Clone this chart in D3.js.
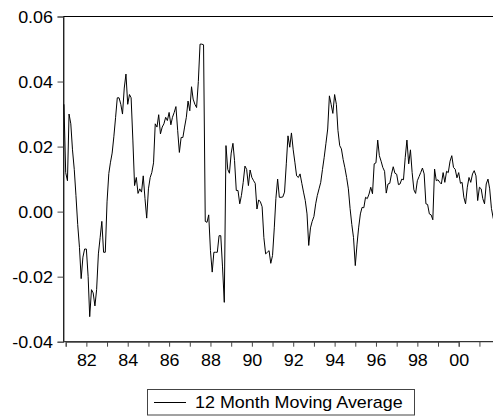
<!DOCTYPE html>
<html>
<head>
<meta charset="utf-8">
<script src="https://cdn.jsdelivr.net/npm/d3@7"></script>
<style>
  body { margin: 0; background: #fff; }
  text { font-family: "Liberation Sans", Arial, sans-serif; }
</style>
</head>
<body>
<div id="chart"></div>
<script>
// monthly series, first observation 1980M12
const startMonth = new Date(1980, 11, 1);
const maValues = [
  0.033, 0.012, 0.0095, 0.030, 0.027, 0.019, 0.013, 0.005, -0.004, -0.011,
  -0.0206, -0.014, -0.0115, -0.0115, -0.020, -0.0323, -0.024, -0.025, -0.029, -0.024,
  -0.013, -0.008, -0.003, -0.0125, -0.0125, 0.003, 0.0117, 0.015, 0.018, 0.023,
  0.029, 0.035, 0.035, 0.033, 0.030, 0.038, 0.0423, 0.033, 0.036, 0.035,
  0.022, 0.008, 0.0105, 0.0056, 0.007, 0.006, 0.011, 0.004, -0.002, 0.007,
  0.0105, 0.012, 0.015, 0.027, 0.026, 0.0298, 0.0239, 0.026, 0.027, 0.029,
  0.028, 0.0305, 0.0267, 0.029, 0.0305, 0.0323, 0.025, 0.0182, 0.0228, 0.0228,
  0.026, 0.029, 0.034, 0.031, 0.0384, 0.0346, 0.033, 0.032, 0.040, 0.0515,
  0.0515, 0.0513, -0.003, -0.0033, -0.001, -0.012, -0.0186, -0.0125, -0.0125, -0.0125,
  -0.0074, -0.0074, -0.017, -0.0279, 0.0203, 0.013, 0.0118, 0.018, 0.021, 0.0157,
  0.0065, 0.0065, 0.0024, 0.005, 0.009, 0.014, 0.013, 0.008, 0.0128, 0.0105,
  0.0095, 0.0087, 0.0008, 0.0036, 0.003, 0.0015, -0.008, -0.013, -0.0125, -0.012,
  -0.0159, -0.0135, -0.005, 0.004, 0.010, 0.0044, 0.0044, 0.0045, 0.006, 0.0147,
  0.0233, 0.0198, 0.0242, 0.019, 0.015, 0.011, 0.0105, 0.0116, 0.0087, 0.006,
  0.0034, -0.0007, -0.0104, -0.005, -0.003, -0.0015, 0.0024, 0.0049, 0.007, 0.009,
  0.013, 0.0167, 0.021, 0.0254, 0.0356, 0.033, 0.0302, 0.036, 0.033, 0.025,
  0.0203, 0.0193, 0.016, 0.0135, 0.0105, 0.007, 0.001, -0.004, -0.008, -0.0166,
  -0.010, -0.005, -0.0007, 0.0013, 0.0012, 0.0044, 0.004, 0.0054, 0.0075, 0.0055,
  0.0147, 0.015, 0.022, 0.0172, 0.0155, 0.0136, 0.0124, 0.0057, 0.0085, 0.0087,
  0.0115, 0.0138, 0.0118, 0.0115, 0.0083, 0.0085, 0.010, 0.0098, 0.0167, 0.022,
  0.0147, 0.019, 0.012, 0.0067, 0.0056, 0.0095, 0.0108, 0.012, 0.0134, 0.0116,
  0.0024, 0.0022, -0.0007, -0.001, -0.0025, 0.0131, 0.0095, 0.0098, 0.009, 0.0085,
  0.012, 0.009, 0.0124, 0.012, 0.0155, 0.0172, 0.0136, 0.013, 0.0104, 0.012,
  0.0087, 0.009, 0.0044, 0.0024, 0.0075, 0.0105, 0.009, 0.0116, 0.0126, 0.011,
  0.0034, 0.0075, 0.007, 0.004, 0.0024, 0.0085, 0.010, 0.007, 0.001, -0.002,
  -0.0038
];
const yTicks = [-0.04, -0.02, 0.00, 0.02, 0.04, 0.06];
const tickYears = d3.range(1981, 2002);
const labelYears = [1982, 1984, 1986, 1988, 1990, 1992, 1994, 1996, 1998, 2000];
const legendLabel = "12 Month Moving Average";

const W = 493, H = 420;
const plotLeft = 63.5, plotTop = 16.5, plotRight = 498, plotBottom = 341.7;
const stretch = 1.12; // text in the original is a little wide

const data = maValues.map((v, i) => ({ date: d3.timeMonth.offset(startMonth, i), value: v }));

const svg = d3.select("#chart").append("svg")
    .attr("width", W)
    .attr("height", H);

const x = d3.scaleTime()
    .domain([new Date(1981, 0, 1), new Date(2000, 0, 1)])
    .range([65.7, 458.7]);
const y = d3.scaleLinear()
    .domain([-0.04, 0.06])
    .range([plotBottom, plotTop]);

// frame
svg.append("rect")
    .attr("x", plotLeft).attr("y", plotTop)
    .attr("width", plotRight - plotLeft).attr("height", plotBottom - plotTop)
    .attr("fill", "none")
    .attr("stroke", "#000")
    .attr("stroke-width", 1);

// left axis
const gy = svg.append("g")
    .attr("transform", `translate(${plotLeft},0)`)
    .call(d3.axisLeft(y).tickValues(yTicks).tickSize(6).tickPadding(0)
        .tickFormat(d => d.toFixed(2)));
gy.select(".domain").attr("stroke", "#444");
gy.selectAll(".tick line").attr("stroke", "#444");
gy.selectAll(".tick text")
    .attr("x", null).attr("dy", null)
    .attr("font-size", 16)
    .attr("fill", "#000")
    .attr("font-family", "Liberation Sans, Arial, sans-serif")
    .attr("transform", `translate(-10.5,5.8) scale(${stretch},1)`);

// bottom axis
const gx = svg.append("g")
    .attr("transform", `translate(0,${plotBottom})`)
    .call(d3.axisBottom(x)
        .tickValues(tickYears.map(yr => new Date(yr, 0, 1)))
        .tickSize(5).tickPadding(0)
        .tickFormat(d => labelYears.includes(d.getFullYear()) ? d3.timeFormat("%y")(d) : ""));
gx.select(".domain").attr("stroke", "#444");
gx.selectAll(".tick line").attr("stroke", "#444");
gx.selectAll(".tick text")
    .attr("y", null).attr("dy", null)
    .attr("font-size", 16)
    .attr("fill", "#000")
    .attr("font-family", "Liberation Sans, Arial, sans-serif")
    .attr("transform", `translate(0,24.5) scale(${stretch},1)`);

// series
const line = d3.line()
    .x(d => x(d.date))
    .y(d => y(d.value));

svg.append("path")
    .datum(data)
    .attr("fill", "none")
    .attr("stroke", "#000")
    .attr("stroke-width", 1)
    .attr("d", line);

// legend
const lg = svg.append("g");
lg.append("rect")
    .attr("x", 147.5).attr("y", 389.5)
    .attr("width", 267).attr("height", 25.5)
    .attr("fill", "#fff")
    .attr("stroke", "#444");
lg.append("line")
    .attr("x1", 154).attr("x2", 186)
    .attr("y1", 402.5).attr("y2", 402.5)
    .attr("stroke", "#000");
lg.append("text")
    .attr("font-size", 16)
    .attr("transform", `translate(195,407.8) scale(${stretch},1)`)
    .text(legendLabel);
</script>
</body>
</html>
